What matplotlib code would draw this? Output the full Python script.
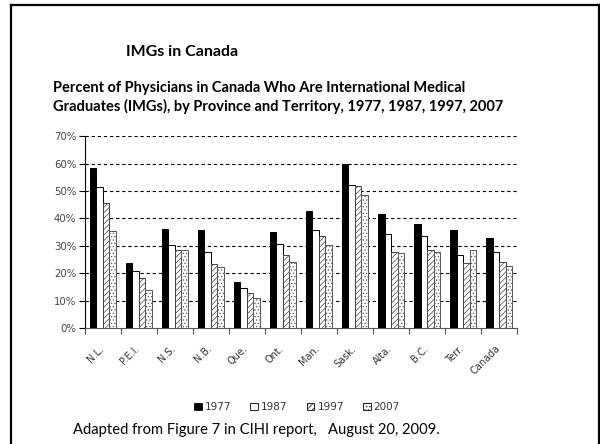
import matplotlib.pyplot as plt
import matplotlib.patches as mpatches
from matplotlib.lines import Line2D
import numpy as np

# percent of physicians who are IMGs
regions = ['N.L.', 'P.E.I.', 'N.S.', 'N.B.', 'Que.', 'Ont.', 'Man.',
           'Sask.', 'Alta.', 'B.C.', 'Terr.', 'Canada']
years = ['1977', '1987', '1997', '2007']
v1977 = [58.5, 23.9, 36.3, 35.7, 16.9, 35.1, 42.8, 59.8, 41.7, 37.9, 35.7, 32.8]
v1987 = [51.6, 21.0, 30.2, 27.9, 14.8, 30.6, 35.7, 52.2, 34.3, 33.7, 26.6, 27.9]
v1997 = [45.7, 18.4, 28.5, 23.3, 12.7, 26.6, 33.5, 51.8, 27.8, 28.5, 23.7, 24.3]
v2007 = [35.4, 14.1, 28.5, 22.3, 10.9, 24.3, 30.2, 48.5, 27.5, 27.9, 28.5, 22.7]
yticks = [0, 10, 20, 30, 40, 50, 60, 70]

series = [v1977, v1987, v1997, v2007]
faces = ['black', 'white', 'white', 'white']
hatches = [None, None, '//////', '.....']
edges = ['black', 'black', '#444444', '#555555']

plt.rcParams['hatch.linewidth'] = 0.5

fig = plt.figure(figsize=(6, 4.44), dpi=100)
ax = fig.add_axes([0.141, 0.2606, 0.721, 0.433])

x = np.arange(len(regions)) + 0.5
w = 0.18
for i, vals in enumerate(series):
    ax.bar(x + (i - 1.5) * w, vals, w, color=faces[i], hatch=hatches[i],
           edgecolor=edges[i], linewidth=0.7, label=years[i], zorder=3)

ax.set_xlim(0, len(regions))
ax.set_ylim(0, 70)
ax.set_yticks(yticks)
ax.set_yticklabels([f'{t}%' for t in yticks], fontsize=7.3, color='#444444',
                   family='DejaVu Sans')
ax.set_xticks(np.arange(len(regions) + 1))
ax.set_xticklabels([])
ax.set_xticks(x - 0.12, minor=True)
ax.set_xticklabels(regions, minor=True, rotation=45, ha='right',
                   rotation_mode='anchor', fontsize=7, color='#333333',
                   family='DejaVu Sans')
ax.tick_params(axis='x', which='minor', length=0, pad=11)
ax.tick_params(axis='x', which='major', length=4, color='#555555')
ax.tick_params(axis='y', length=4, color='black', pad=2)

for t in yticks[1:]:
    ax.axhline(t, color='black', linestyle=(0, (3, 2.5)), linewidth=0.8, zorder=1)

ax.spines['top'].set_visible(False)
ax.spines['right'].set_visible(False)
ax.spines['left'].set_linewidth(0.8)
ax.spines['bottom'].set_color('#555555')
ax.spines['bottom'].set_linewidth(0.8)

handles = [mpatches.Patch(facecolor=faces[i], hatch=hatches[i],
                          edgecolor='black', linewidth=0.6, label=years[i])
           for i in range(4)]
fig.legend(handles=handles, loc='center', bbox_to_anchor=(0.495, 0.083),
           ncol=4, frameon=False, handlelength=0.75,
           handleheight=0.75, handletextpad=0.3, columnspacing=1.8,
           labelcolor='#333333',
           prop={'family': 'DejaVu Sans', 'size': 7.5})

fig.text(0.21, 0.883, 'IMGs in Canada', fontsize=11.5, fontweight='bold',
         family='Lato', va='center')
fig.text(0.088, 0.802, 'Percent of Physicians in Canada Who Are International Medical',
         fontsize=10.5, fontweight='bold', family='Lato', va='center')
fig.text(0.088, 0.761, 'Graduates (IMGs), by Province and Territory, 1977, 1987, 1997, 2007',
         fontsize=10.5, fontweight='bold', family='Lato', va='center')
fig.text(0.122, 0.032, 'Adapted from Figure 7 in CIHI report,   August 20, 2009.',
         fontsize=10.6, family='Lato', va='center')

# slide frame
lw = 1.6
fig.add_artist(Line2D([0.0183, 0.0183], [0.0, 0.9887], color='black', linewidth=lw))
fig.add_artist(Line2D([0.0183, 0.998], [0.9887, 0.9887], color='black', linewidth=lw))
fig.add_artist(Line2D([0.998, 0.998], [0.0, 0.9887], color='black', linewidth=lw))

fig.savefig('out.png', dpi=100)
